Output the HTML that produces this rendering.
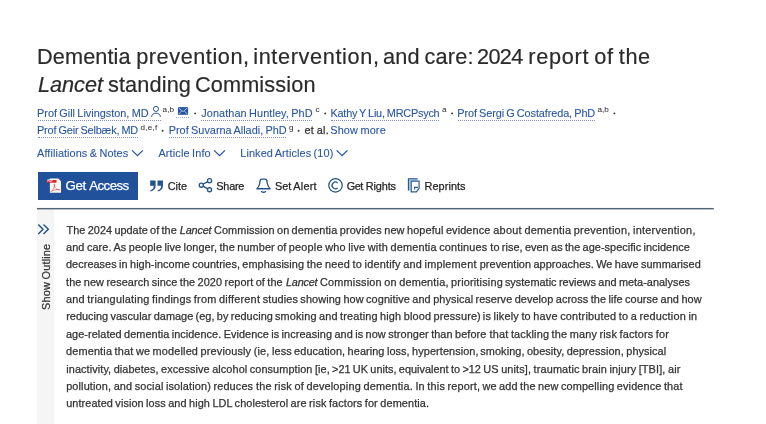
<!DOCTYPE html>
<html lang="en"><head><meta charset="utf-8"><title>Dementia prevention, intervention, and care: 2024 report of the Lancet standing Commission</title>
<style>
html,body{margin:0;padding:0;background:#fff;}
body{font-family:"Liberation Sans",sans-serif;color:#333333;overflow:hidden;}
#page{position:relative;width:766px;height:424px;overflow:hidden;background:#fff;}
.t{position:absolute;white-space:nowrap;line-height:1;-webkit-text-stroke:0.25px currentColor;}
.a{position:absolute;}
.dot{position:absolute;height:0;border-top:1px dotted #7f8fca;}
.sep{position:absolute;width:1.6px;height:1.6px;border-radius:50%;background:#333;}
svg{position:absolute;overflow:visible;}

</style></head>
<body>
<div id="page">
<div class="a" style="left:37px;top:209px;width:17.3px;height:215px;background:#f5f5f5;"></div>
<div class="a" style="left:38px;top:172px;width:99.8px;height:27.6px;background:#21519b;"></div>
<!-- dotted underlines -->
<div class="dot" style="left:38px;top:120px;width:123px;"></div>
<div class="dot" style="left:176px;top:117.4px;width:13px;border-top-color:#9db0d4;"></div>
<div class="dot" style="left:201px;top:120px;width:111px;"></div>
<div class="dot" style="left:331px;top:120px;width:108px;"></div>
<div class="dot" style="left:458px;top:120px;width:137px;"></div>
<div class="dot" style="left:38px;top:137px;width:100px;"></div>
<div class="dot" style="left:169px;top:137px;width:117px;"></div>
<!-- separators -->
<svg width="766" height="424" viewBox="0 0 766 424" style="left:0;top:0;" fill="none">
<rect x="37" y="207.95" width="676.8" height="1.45" fill="#4f6575"/>
<circle cx="195.2" cy="113.4" r="0.95" fill="#333"/>
<circle cx="325.2" cy="113.4" r="0.95" fill="#333"/>
<circle cx="452.1" cy="113.4" r="0.95" fill="#333"/>
<circle cx="614.4" cy="113.4" r="0.95" fill="#333"/>
<circle cx="162.6" cy="130.7" r="0.95" fill="#333"/>
<circle cx="298.6" cy="130.7" r="0.95" fill="#333"/>
<!-- person -->
<g stroke="#2856a3" stroke-width="1">
<circle cx="155.95" cy="108.9" r="2.55"/>
<path d="M151.6 116.9 C151.6 111.9 160.4 111.9 160.4 116.9"/>
</g>
<!-- envelope -->
<rect x="177.9" y="107.1" width="10.2" height="7.7" fill="#2856a3"/>
<path d="M178.6 107.9 L183 111.6 L187.4 107.9 M178.6 114.2 L181.6 111 M187.4 114.2 L184.4 111" stroke="#fff" stroke-opacity="0.75" stroke-width="0.8"/>
<!-- chevrons -->
<g stroke="#2856a3" stroke-width="1.3">
<path d="M132.05 150.35 L137.45 155.65 L142.85 150.35"/>
<path d="M214.15 150.35 L219.55 155.65 L224.95 150.35"/>
<path d="M336.65 150.35 L342.05 155.65 L347.45 150.35"/>
</g>
<!-- pdf icon -->
<path d="M49.9 178.6 H58.4 L61 181.2 V192.8 H49.9 Z" fill="#fbf9f6"/>
<rect x="46.8" y="180" width="9.7" height="2.7" fill="#d8232a"/>
<path d="M51.2 191.6 C52.6 190.6 54.3 187.6 54.6 184.6 C54.8 183.4 53.9 183.6 54.1 184.8 C54.5 187.4 56.6 189.6 59.2 190.2 C60 190.3 59.8 189.4 58.8 189.4 C56.4 189.3 53.2 190.2 51.2 191.6 Z" stroke="#d8232a" stroke-width="0.5"/>
<text x="47.5" y="182.35" font-size="2.7" font-weight="bold" fill="#fff" stroke="none" style="-webkit-text-stroke:0">PDF</text>
<!-- quote -->
<g fill="#21558c">
<path d="M150.15 180.5 H155.6 V186.1 C155.6 189 153.6 190.9 150.5 191.4 L150.15 190.4 C152.3 189.8 153.7 188.6 153.8 185.8 H150.15 Z"/>
<path d="M157.5 180.5 H162.95 V186.1 C162.95 189 160.95 190.9 157.85 191.4 L157.5 190.4 C159.65 189.8 161.05 188.6 161.15 185.8 H157.5 Z"/>
</g>
<!-- share -->
<g stroke="#21558c" stroke-width="1.3">
<circle cx="209.55" cy="180.75" r="2.05"/>
<circle cx="201.3" cy="185.2" r="2.05"/>
<circle cx="209.55" cy="189.8" r="2.05"/>
<path d="M203 184.25 L207.85 181.7 M203 186.15 L207.85 188.85"/>
</g>
<!-- bell -->
<g stroke="#21558c" stroke-width="1.35">
<path d="M256.9 188.7 H270.1 C268.2 187.1 267.5 185.5 267.2 183 L266.9 180.7 C266.8 179.6 266 179.1 265 179.1 H262 C261 179.1 260.2 179.6 260.1 180.7 L259.8 183 C259.5 185.5 258.8 187.1 256.9 188.7 Z" stroke-linejoin="round"/>
<path d="M261.1 191.2 Q263.5 193.4 265.9 191.2"/>
</g>
<!-- copyright -->
<g stroke="#21558c">
<circle cx="335.5" cy="185.4" r="6.7" stroke-width="1.25"/>
<path d="M337.6 182.9 A3.3 3.3 0 1 0 337.6 187.9" stroke-width="1.3"/>
</g>
<!-- reprints -->
<path d="M408.3 178.7 H417.6 V180.5 H410.6 V190.6 H408.3 Z" fill="#a9c2da"/>
<path d="M408.4 190.6 V178.8 H417.6" stroke="#21558c" stroke-width="1.1"/>
<path d="M411.2 181.1 H419.1 V188.2 L416.4 191.8 H411.2 Z" fill="#fff" stroke="#2a5d91" stroke-width="1.2"/>
<path d="M414.6 189.6 V187.4 H418" stroke="#2a5d91" stroke-width="1.2"/>
<!-- double chevron -->
<g stroke="#1f5288" stroke-width="1.4">
<path d="M38.3 224.6 L43 229.2 L38.3 233.9"/>
<path d="M43.5 224.6 L48.3 229.2 L43.5 233.9"/>
</g>
</svg>

<span class="t" style="left:37.08px;top:46px;font-size:21.7px;letter-spacing:0.089px;color:#2b2b2b;-webkit-text-stroke:0.2px currentColor;">Dementia</span>
<span class="t" style="left:136.22px;top:46px;font-size:21.7px;letter-spacing:0.556px;color:#2b2b2b;-webkit-text-stroke:0.2px currentColor;">prevention,</span>
<span class="t" style="left:253.19px;top:46px;font-size:21.7px;letter-spacing:0.635px;color:#2b2b2b;-webkit-text-stroke:0.2px currentColor;">intervention,</span>
<span class="t" style="left:383.00px;top:46px;font-size:21.7px;word-spacing:-1.415px;letter-spacing:0.188px;color:#2b2b2b;-webkit-text-stroke:0.2px currentColor;">and care:</span>
<span class="t" style="left:477.00px;top:46px;font-size:21.7px;letter-spacing:-0.645px;color:#2b2b2b;-webkit-text-stroke:0.2px currentColor;">2024</span>
<span class="t" style="left:528.18px;top:46px;font-size:21.7px;letter-spacing:0.759px;color:#2b2b2b;-webkit-text-stroke:0.2px currentColor;">report</span>
<span class="t" style="left:594.30px;top:46px;font-size:21.7px;word-spacing:-1.415px;letter-spacing:0.593px;color:#2b2b2b;-webkit-text-stroke:0.2px currentColor;">of the</span>
<span class="t" style="left:37.90px;top:74px;font-size:21.7px;letter-spacing:0.010px;color:#2b2b2b;-webkit-text-stroke:0.2px currentColor;"><i>Lancet</i></span>
<span class="t" style="left:107.92px;top:74px;font-size:21.7px;letter-spacing:0.144px;color:#2b2b2b;-webkit-text-stroke:0.2px currentColor;">standing</span>
<span class="t" style="left:194.90px;top:74px;font-size:21.7px;letter-spacing:0.156px;color:#2b2b2b;-webkit-text-stroke:0.2px currentColor;">Commission</span>
<span class="t" style="left:37.00px;top:108px;font-size:10.9px;word-spacing:-0.711px;color:#2856a3;-webkit-text-stroke:0.1px currentColor;">Prof Gill Livingston, MD</span>
<span class="t" style="left:162.61px;top:106px;font-size:8.1px;letter-spacing:0.090px;-webkit-text-stroke:0.05px currentColor;">a,b</span>
<span class="t" style="left:201.22px;top:108px;font-size:10.9px;word-spacing:-0.711px;letter-spacing:0.080px;color:#2856a3;-webkit-text-stroke:0.1px currentColor;">Jonathan Huntley, PhD</span>
<span class="t" style="left:315.51px;top:106px;font-size:8.1px;-webkit-text-stroke:0.05px currentColor;">c</span>
<span class="t" style="left:330.50px;top:108px;font-size:10.9px;word-spacing:-0.711px;letter-spacing:-0.225px;color:#2856a3;-webkit-text-stroke:0.1px currentColor;">Kathy Y Liu, MRCPsych</span>
<span class="t" style="left:441.91px;top:106px;font-size:8.1px;-webkit-text-stroke:0.05px currentColor;">a</span>
<span class="t" style="left:457.30px;top:108px;font-size:10.9px;word-spacing:-0.711px;letter-spacing:-0.100px;color:#2856a3;-webkit-text-stroke:0.1px currentColor;">Prof Sergi G Costafreda, PhD</span>
<span class="t" style="left:597.41px;top:106px;font-size:8.1px;letter-spacing:0.040px;-webkit-text-stroke:0.05px currentColor;">a,b</span>
<span class="t" style="left:37.00px;top:125px;font-size:10.9px;word-spacing:-0.711px;letter-spacing:-0.168px;color:#2856a3;-webkit-text-stroke:0.1px currentColor;">Prof Geir Selbæk, MD</span>
<span class="t" style="left:140.45px;top:124px;font-size:8.1px;letter-spacing:0.265px;-webkit-text-stroke:0.05px currentColor;">d,e,f</span>
<span class="t" style="left:168.70px;top:125px;font-size:10.9px;word-spacing:-0.711px;letter-spacing:0.013px;color:#2856a3;-webkit-text-stroke:0.1px currentColor;">Prof Suvarna Alladi, PhD</span>
<span class="t" style="left:288.96px;top:124px;font-size:8.1px;-webkit-text-stroke:0.05px currentColor;">g</span>
<span class="t" style="left:304.49px;top:125px;font-size:10.9px;word-spacing:-0.711px;letter-spacing:0.289px;">et al.</span>
<span class="t" style="left:330.24px;top:125px;font-size:10.9px;word-spacing:-0.711px;letter-spacing:0.136px;color:#2856a3;-webkit-text-stroke:0.1px currentColor;">Show more</span>
<span class="t" style="left:37.09px;top:148px;font-size:10.9px;word-spacing:-0.711px;letter-spacing:0.070px;color:#2856a3;-webkit-text-stroke:0.1px currentColor;">Affiliations &amp; Notes</span>
<span class="t" style="left:158.49px;top:148px;font-size:10.9px;word-spacing:-0.711px;letter-spacing:0.124px;color:#2856a3;-webkit-text-stroke:0.1px currentColor;">Article Info</span>
<span class="t" style="left:240.30px;top:148px;font-size:10.9px;word-spacing:-0.711px;letter-spacing:0.094px;color:#2856a3;-webkit-text-stroke:0.1px currentColor;">Linked Articles (10)</span>
<span class="t" style="left:65.46px;top:179px;font-size:13.3px;letter-spacing:-0.400px;color:#ffffff;">Get</span>
<span class="t" style="left:89.34px;top:179px;font-size:13.3px;letter-spacing:-0.611px;color:#ffffff;">Access</span>
<span class="t" style="left:167.71px;top:181px;font-size:10.9px;letter-spacing:0.005px;color:#262626;">Cite</span>
<span class="t" style="left:216.33px;top:181px;font-size:10.9px;letter-spacing:-0.251px;color:#262626;">Share</span>
<span class="t" style="left:275.04px;top:181px;font-size:10.9px;letter-spacing:-0.068px;color:#262626;">Set</span>
<span class="t" style="left:293.29px;top:181px;font-size:10.9px;letter-spacing:0.229px;color:#262626;">Alert</span>
<span class="t" style="left:346.81px;top:181px;font-size:10.9px;letter-spacing:-0.520px;color:#262626;">Get</span>
<span class="t" style="left:365.70px;top:181px;font-size:10.9px;letter-spacing:-0.100px;color:#262626;">Rights</span>
<span class="t" style="left:424.50px;top:181px;font-size:10.9px;letter-spacing:0.071px;color:#262626;">Reprints</span>
<span class="t" style="left:66.61px;top:225px;font-size:10.9px;word-spacing:-0.711px;letter-spacing:0.016px;">The 2024 update of the</span>
<span class="t" style="left:179.81px;top:225px;font-size:10.9px;letter-spacing:-0.170px;"><i>Lancet</i></span>
<span class="t" style="left:214.01px;top:225px;font-size:10.9px;word-spacing:-0.711px;letter-spacing:0.079px;">Commission on</span>
<span class="t" style="left:291.62px;top:225px;font-size:10.9px;word-spacing:-0.711px;letter-spacing:0.113px;">dementia provides new hopeful evidence</span>
<span class="t" style="left:493.31px;top:225px;font-size:10.9px;word-spacing:-0.711px;letter-spacing:0.254px;">about dementia prevention, intervention,</span>
<span class="t" style="left:66.01px;top:242px;font-size:10.9px;word-spacing:-0.711px;letter-spacing:0.100px;">and care. As people live longer, the number of</span>
<span class="t" style="left:288.85px;top:242px;font-size:10.9px;word-spacing:-0.711px;letter-spacing:0.186px;">people who live with dementia continues</span>
<span class="t" style="left:490.32px;top:242px;font-size:10.9px;word-spacing:-0.711px;letter-spacing:0.038px;">to rise, even as the age-specific incidence</span>
<span class="t" style="left:66.02px;top:259px;font-size:10.9px;word-spacing:-0.711px;letter-spacing:0.050px;">decreases in high-income countries, emphasising</span>
<span class="t" style="left:306.72px;top:259px;font-size:10.9px;word-spacing:-0.711px;letter-spacing:0.205px;">the need to identify and implement</span>
<span class="t" style="left:479.75px;top:259px;font-size:10.9px;word-spacing:-0.711px;letter-spacing:0.046px;">prevention approaches. We have summarised</span>
<span class="t" style="left:66.12px;top:277px;font-size:10.9px;word-spacing:-0.711px;letter-spacing:0.068px;">the new research since the 2020 report of the</span>
<span class="t" style="left:286.01px;top:277px;font-size:10.9px;letter-spacing:-0.230px;"><i>Lancet</i></span>
<span class="t" style="left:320.01px;top:277px;font-size:10.9px;word-spacing:-0.711px;letter-spacing:0.179px;">Commission on dementia, prioritising</span>
<span class="t" style="left:504.91px;top:277px;font-size:10.9px;word-spacing:-0.711px;letter-spacing:0.022px;">systematic reviews and meta-analyses</span>
<span class="t" style="left:66.01px;top:294px;font-size:10.9px;word-spacing:-0.711px;letter-spacing:0.217px;">and triangulating findings from different</span>
<span class="t" style="left:262.81px;top:294px;font-size:10.9px;word-spacing:-0.711px;letter-spacing:0.094px;">studies showing how cognitive and physical</span>
<span class="t" style="left:475.43px;top:294px;font-size:10.9px;word-spacing:-0.711px;letter-spacing:0.077px;">reserve develop across the life course and how</span>
<span class="t" style="left:66.13px;top:311px;font-size:10.9px;word-spacing:-0.711px;letter-spacing:0.034px;">reducing vascular damage (eg, by reducing</span>
<span class="t" style="left:275.01px;top:311px;font-size:10.9px;word-spacing:-0.711px;letter-spacing:0.147px;">smoking and treating high blood pressure)</span>
<span class="t" style="left:482.83px;top:311px;font-size:10.9px;word-spacing:-0.711px;letter-spacing:0.188px;">is likely to have contributed to a reduction in</span>
<span class="t" style="left:66.01px;top:329px;font-size:10.9px;word-spacing:-0.711px;letter-spacing:0.055px;">age-related dementia incidence. Evidence</span>
<span class="t" style="left:271.23px;top:329px;font-size:10.9px;word-spacing:-0.711px;letter-spacing:0.075px;">is increasing and is now stronger than before</span>
<span class="t" style="left:489.62px;top:329px;font-size:10.9px;word-spacing:-0.711px;letter-spacing:0.163px;">that tackling the many risk factors for</span>
<span class="t" style="left:66.02px;top:346px;font-size:10.9px;word-spacing:-0.711px;letter-spacing:0.162px;">dementia that we modelled previously (ie,</span>
<span class="t" style="left:272.03px;top:346px;font-size:10.9px;word-spacing:-0.711px;letter-spacing:0.083px;">less education, hearing loss, hypertension,</span>
<span class="t" style="left:480.31px;top:346px;font-size:10.9px;word-spacing:-0.711px;letter-spacing:0.080px;">smoking, obesity, depression, physical</span>
<span class="t" style="left:66.24px;top:364px;font-size:10.9px;word-spacing:-0.711px;letter-spacing:0.093px;">inactivity, diabetes, excessive alcohol consumption</span>
<span class="t" style="left:315.08px;top:364px;font-size:10.9px;word-spacing:-0.711px;letter-spacing:0.017px;">[ie, &gt;21 UK units, equivalent to &gt;12</span>
<span class="t" style="left:483.30px;top:364px;font-size:10.9px;word-spacing:-0.711px;letter-spacing:0.135px;">US units], traumatic brain injury [TBI], air</span>
<span class="t" style="left:66.14px;top:381px;font-size:10.9px;word-spacing:-0.711px;letter-spacing:0.147px;">pollution, and social isolation) reduces</span>
<span class="t" style="left:256.12px;top:381px;font-size:10.9px;word-spacing:-0.711px;letter-spacing:0.183px;">the risk of developing dementia. In this report,</span>
<span class="t" style="left:482.40px;top:381px;font-size:10.9px;word-spacing:-0.711px;letter-spacing:0.137px;">we add the new compelling evidence that</span>
<span class="t" style="left:66.17px;top:398px;font-size:10.9px;word-spacing:-0.711px;letter-spacing:0.086px;">untreated vision loss and high LDL cholesterol</span>
<span class="t" style="left:290.61px;top:398px;font-size:10.9px;word-spacing:-0.711px;letter-spacing:0.112px;">are risk factors for dementia.</span>
<span class="t" style="left:41px;top:309.56px;font-size:10.9px;word-spacing:-0.711px;letter-spacing:0.190px;transform-origin:0 0;transform:rotate(-90deg);">Show Outline</span>
</div>
</body></html>
